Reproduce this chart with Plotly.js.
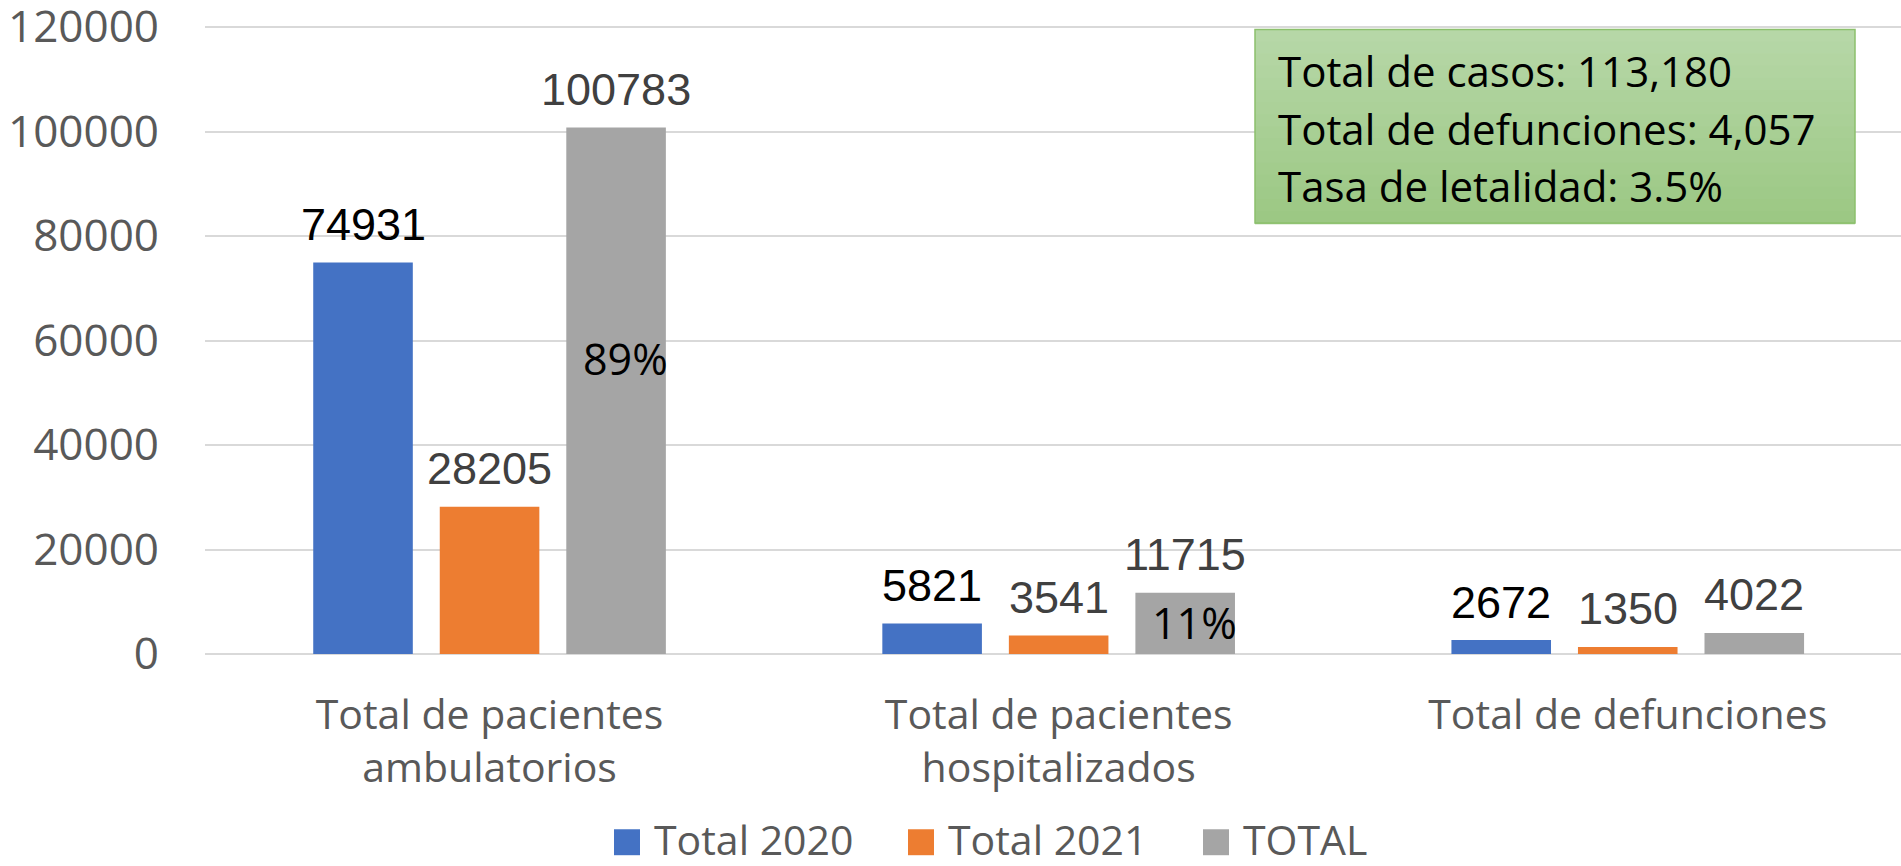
<!DOCTYPE html>
<html>
<head>
<meta charset="utf-8">
<script src="https://cdn.plot.ly/plotly-3.0.1.min.js"></script>
<style>
  html, body { margin: 0; padding: 0; background: #ffffff; }
  #chart { width: 1901px; height: 866px; }
</style>
</head>
<body>
<div id="chart"></div>
<script>
// ---------- data ----------
const categories = ['Total de pacientes ambulatorios', 'Total de pacientes hospitalizados', 'Total de defunciones'];
const categoryTickLabels = ['Total de pacientes<br>ambulatorios', 'Total de pacientes<br>hospitalizados', 'Total de defunciones'];
const seriesNames = ['Total 2020', 'Total 2021', 'TOTAL'];
const total2020 = [74931, 5821, 2672];
const total2021 = [28205, 3541, 1350];
const totalAll = [100783, 11715, 4022];
const totalShare = ['89%', '11%', ''];
const summaryLines = ['Total de casos: 113,180', 'Total de defunciones: 4,057', 'Tasa de letalidad: 3.5%'];
const yTickValues = [0, 20000, 40000, 60000, 80000, 100000, 120000];

// ---------- style ----------
const seriesColors = ['#4472C4', '#ED7D31', '#A5A5A5'];
const labelColors = ['#000000', '#404040', '#404040'];
const W = 1901, H = 866;
const yMax = 120400;
const plotL = 205, plotR = 1901, plotB = 654.5;
const pxPerUnit = (654.5 - 26.7) / 120000;
const plotT = plotB - pxPerUnit * yMax;
const pw = plotR - plotL, ph = plotB - plotT;
const px2x = p => (p - plotL) / pw;
const px2y = p => (plotB - p) / ph;

const seriesData = [total2020, total2021, totalAll];
const traces = seriesData.map((vals, s) => ({
  type: 'bar',
  name: seriesNames[s],
  x: categories,
  y: vals,
  marker: { color: seriesColors[s], line: { width: 0 } },
  hoverinfo: 'x+y+name',
  showlegend: false
}));

const bargap = 0.333, bargroupgap = 0.213;
const slot = (1 - bargap) / 3;

const annotations = [];
seriesData.forEach((vals, s) => {
  vals.forEach((v, i) => {
    annotations.push({
      xref: 'x', yref: 'y',
      x: i + (s - 1) * slot, y: v,
      text: String(v),
      showarrow: false,
      yanchor: 'middle',
      yshift: 38,
      font: { family: 'Liberation Sans, Arial, sans-serif', size: 45, color: labelColors[s] }
    });
  });
});
// percentage shares inside TOTAL bars
totalShare.forEach((t, i) => {
  if (!t) return;
  annotations.push({
    xref: 'x', yref: 'y',
    x: i + slot, y: totalAll[i] / 2,
    text: t,
    showarrow: false,
    xshift: 9,
    yshift: i === 0 ? 32 : 1,
    font: { family: 'Open Sans, sans-serif', size: 43, color: '#000000' }
  });
});
// summary box text
const boxLineCenters = [70, 128, 185];
summaryLines.forEach((t, k) => {
  annotations.push({
    xref: 'paper', yref: 'paper',
    x: px2x(1276), y: px2y(boxLineCenters[k]),
    xanchor: 'left', yanchor: 'middle',
    text: t, showarrow: false, align: 'left',
    font: { family: 'Open Sans, sans-serif', size: 42, color: '#000000' }
  });
});

const shapes = [];
// summary box with a soft vertical gradient (stacked bands)
const boxTop = 29, boxBot = 223, boxL = 1255, boxR = 1855;
const nBands = 16;
const cTop = [183, 215, 168], cBot = [155, 199, 131];
for (let k = 0; k < nBands; k++) {
  const f = (k + 0.5) / nBands;
  const c = cTop.map((v, j) => Math.round(v + (cBot[j] - v) * f));
  shapes.push({
    type: 'rect', xref: 'paper', yref: 'paper',
    x0: px2x(boxL), x1: px2x(boxR),
    y1: px2y(boxTop + (boxBot - boxTop) * k / nBands),
    y0: px2y(boxTop + (boxBot - boxTop) * (k + 1) / nBands) - 0.002,
    fillcolor: 'rgb(' + c.join(',') + ')', line: { width: 0 }, layer: 'above'
  });
}
shapes.push({
  type: 'rect', xref: 'paper', yref: 'paper',
  x0: px2x(boxL), x1: px2x(boxR), y0: px2y(boxBot), y1: px2y(boxTop),
  fillcolor: 'rgba(0,0,0,0)', line: { color: '#8CC06C', width: 1.5 }, layer: 'above'
});

// legend (drawn as shapes + text so its swatches match the reference size)
const legendSwatchX = [614, 908, 1203];
const legendCY = 840, sw = 26;
seriesNames.forEach((name, s) => {
  shapes.push({
    type: 'rect', xref: 'paper', yref: 'paper',
    x0: px2x(legendSwatchX[s]), x1: px2x(legendSwatchX[s] + sw),
    y0: px2y(legendCY + 3 + sw / 2), y1: px2y(legendCY + 3 - sw / 2),
    fillcolor: seriesColors[s], line: { width: 0 }
  });
  annotations.push({
    xref: 'paper', yref: 'paper',
    x: px2x(legendSwatchX[s] + sw + 12), y: px2y(legendCY),
    xanchor: 'left', yanchor: 'middle',
    text: name, showarrow: false,
    font: { family: 'Open Sans, sans-serif', size: 41, color: '#595959' }
  });
});

const layout = {
  width: W, height: H,
  margin: { l: plotL, r: W - plotR, t: plotT, b: H - plotB, pad: 0, autoexpand: false },
  paper_bgcolor: '#ffffff',
  plot_bgcolor: '#ffffff',
  barmode: 'group',
  bargap: bargap,
  bargroupgap: bargroupgap,
  showlegend: false,
  xaxis: {
    type: 'category',
    range: [-0.5, -0.5 + pw / 569.1],
    tickvals: categories,
    ticktext: categoryTickLabels,
    showgrid: false, zeroline: false, showline: false,
    ticks: '',
    ticklabelstandoff: 33,
    automargin: false,
    tickfont: { family: 'Open Sans, sans-serif', size: 41, color: '#595959' },
    fixedrange: true
  },
  yaxis: {
    range: [0, yMax],
    tickvals: yTickValues,
    tickformat: 'd',
    showgrid: true, gridcolor: '#D9D9D9', gridwidth: 1.5,
    zeroline: true, zerolinecolor: '#D9D9D9', zerolinewidth: 1.5,
    showline: false, ticks: '',
    ticklabelstandoff: 45,
    ticklabeloverflow: 'allow',
    automargin: false,
    tickfont: { family: 'Open Sans, sans-serif', size: 44, color: '#595959' },
    fixedrange: true
  },
  shapes: shapes,
  annotations: annotations
};

Plotly.newPlot('chart', traces, layout, { displayModeBar: false });
</script>
</body>
</html>
